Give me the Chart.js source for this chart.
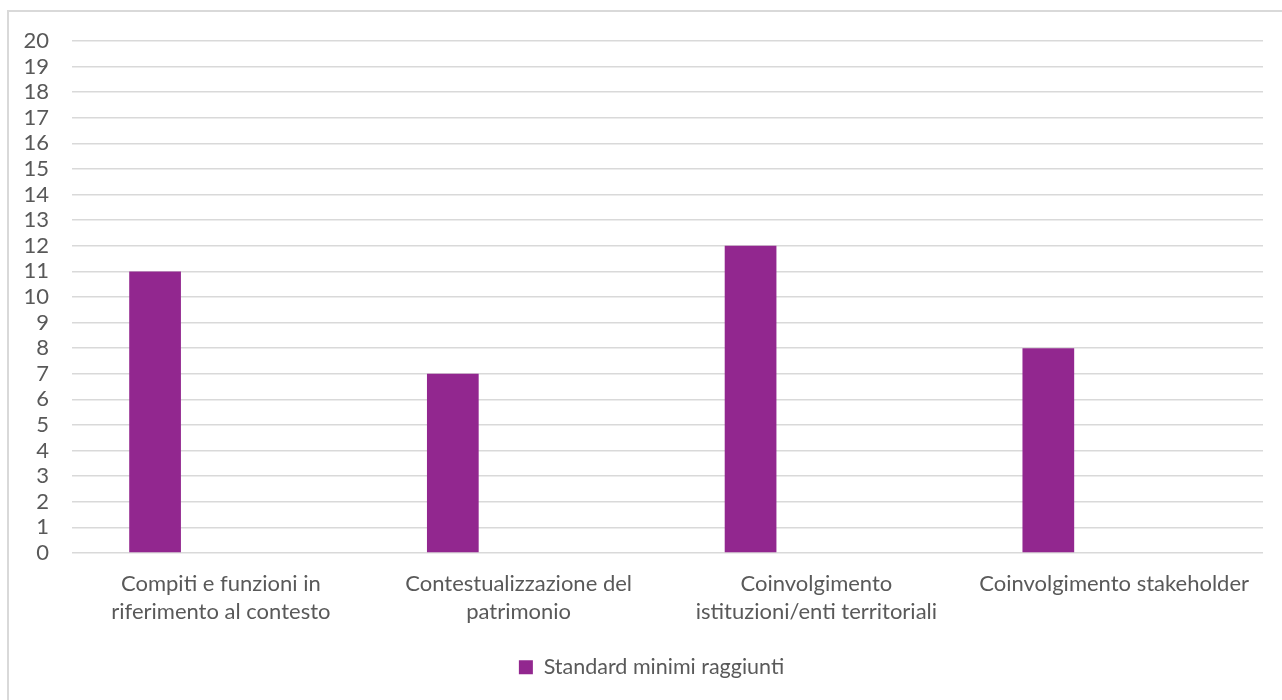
<!DOCTYPE html>
<html>
<head>
<meta charset="utf-8">
<script src="https://cdn.jsdelivr.net/npm/chart.js@4/dist/chart.umd.min.js"></script>
<style>
  html, body { margin: 0; padding: 0; background: #ffffff; overflow: hidden; }
  #frame {
    position: absolute; left: 7px; top: 10px; width: 1400px; height: 800px;
    border: 2px solid #d9d9d9; box-sizing: border-box;
  }
  #wrap { position: absolute; left: 0; top: 0; width: 1282px; height: 700px; }
</style>
</head>
<body>
<div id="frame"></div>
<div id="wrap"><canvas id="chart" width="1282" height="700"></canvas></div>
<script>
// Categories (multi-line labels) and values
const categories = [
  ['Compiti e funzioni in', 'riferimento al contesto'],
  ['Contestualizzazione del', 'patrimonio'],
  ['Coinvolgimento', 'istituzioni/enti territoriali'],
  'Coinvolgimento stakeholder'
];
const seriesName = 'Standard minimi raggiunti';
const standardMinimi = [11, 7, 12, 8];
// Second series of the workbook, left empty
const emptySeries = [null, null, null, null];
const yTicks = { min: 0, max: 20, step: 1 };

const FONT = 'Lato, "Open Sans", sans-serif';
const TEXT = '#595959';
const GRID = '#d9d9d9';
const BAR = '#92278F';

// Centre the legend under the plot rather than the whole canvas
const legendShift = {
  id: 'legendShift',
  afterLayout(chart) {
    const lg = chart.legend;
    if (lg) {
      lg.left += 20; lg.right += 20;
      lg.top += 2; lg.bottom += 2;
    }
  }
};

new Chart(document.getElementById('chart'), {
  type: 'bar',
  plugins: [legendShift],
  data: {
    labels: categories,
    datasets: [
      {
        label: seriesName,
        data: standardMinimi,
        backgroundColor: BAR,
        borderWidth: 0,
        categoryPercentage: 0.884,
        barPercentage: 0.393
      },
      {
        label: '',
        data: emptySeries,
        backgroundColor: 'rgba(0,0,0,0)',
        borderWidth: 0,
        categoryPercentage: 0.884,
        barPercentage: 0.393
      }
    ]
  },
  options: {
    responsive: false,
    animation: false,
    layout: { padding: { left: 0, right: 19, top: 41, bottom: 14 } },
    plugins: {
      tooltip: { enabled: false },
      legend: {
        position: 'bottom',
        labels: {
          filter: (item) => item.text !== '',
          boxWidth: 14,
          boxHeight: 14,
          padding: 10,
          color: TEXT,
          font: { family: FONT, size: 21.5 }
        }
      }
    },
    scales: {
      x: {
        grid: { display: false, drawTicks: false },
        border: { display: false },
        ticks: {
          color: TEXT,
          font: { family: FONT, size: 22, lineHeight: 1.28 },
          padding: 17,
          maxRotation: 0,
          minRotation: 0,
          autoSkip: false
        },
        afterFit: (s) => { s.height = 91.5; }
      },
      y: {
        min: yTicks.min,
        max: yTicks.max,
        grid: { color: GRID, lineWidth: 1.5, drawTicks: false },
        border: { display: false },
        ticks: {
          stepSize: yTicks.step,
          autoSkip: false,
          color: TEXT,
          font: { family: FONT, size: 22 },
          padding: 23
        },
        afterFit: (s) => { s.width = 72; }
      }
    }
  }
});
</script>
</body>
</html>
